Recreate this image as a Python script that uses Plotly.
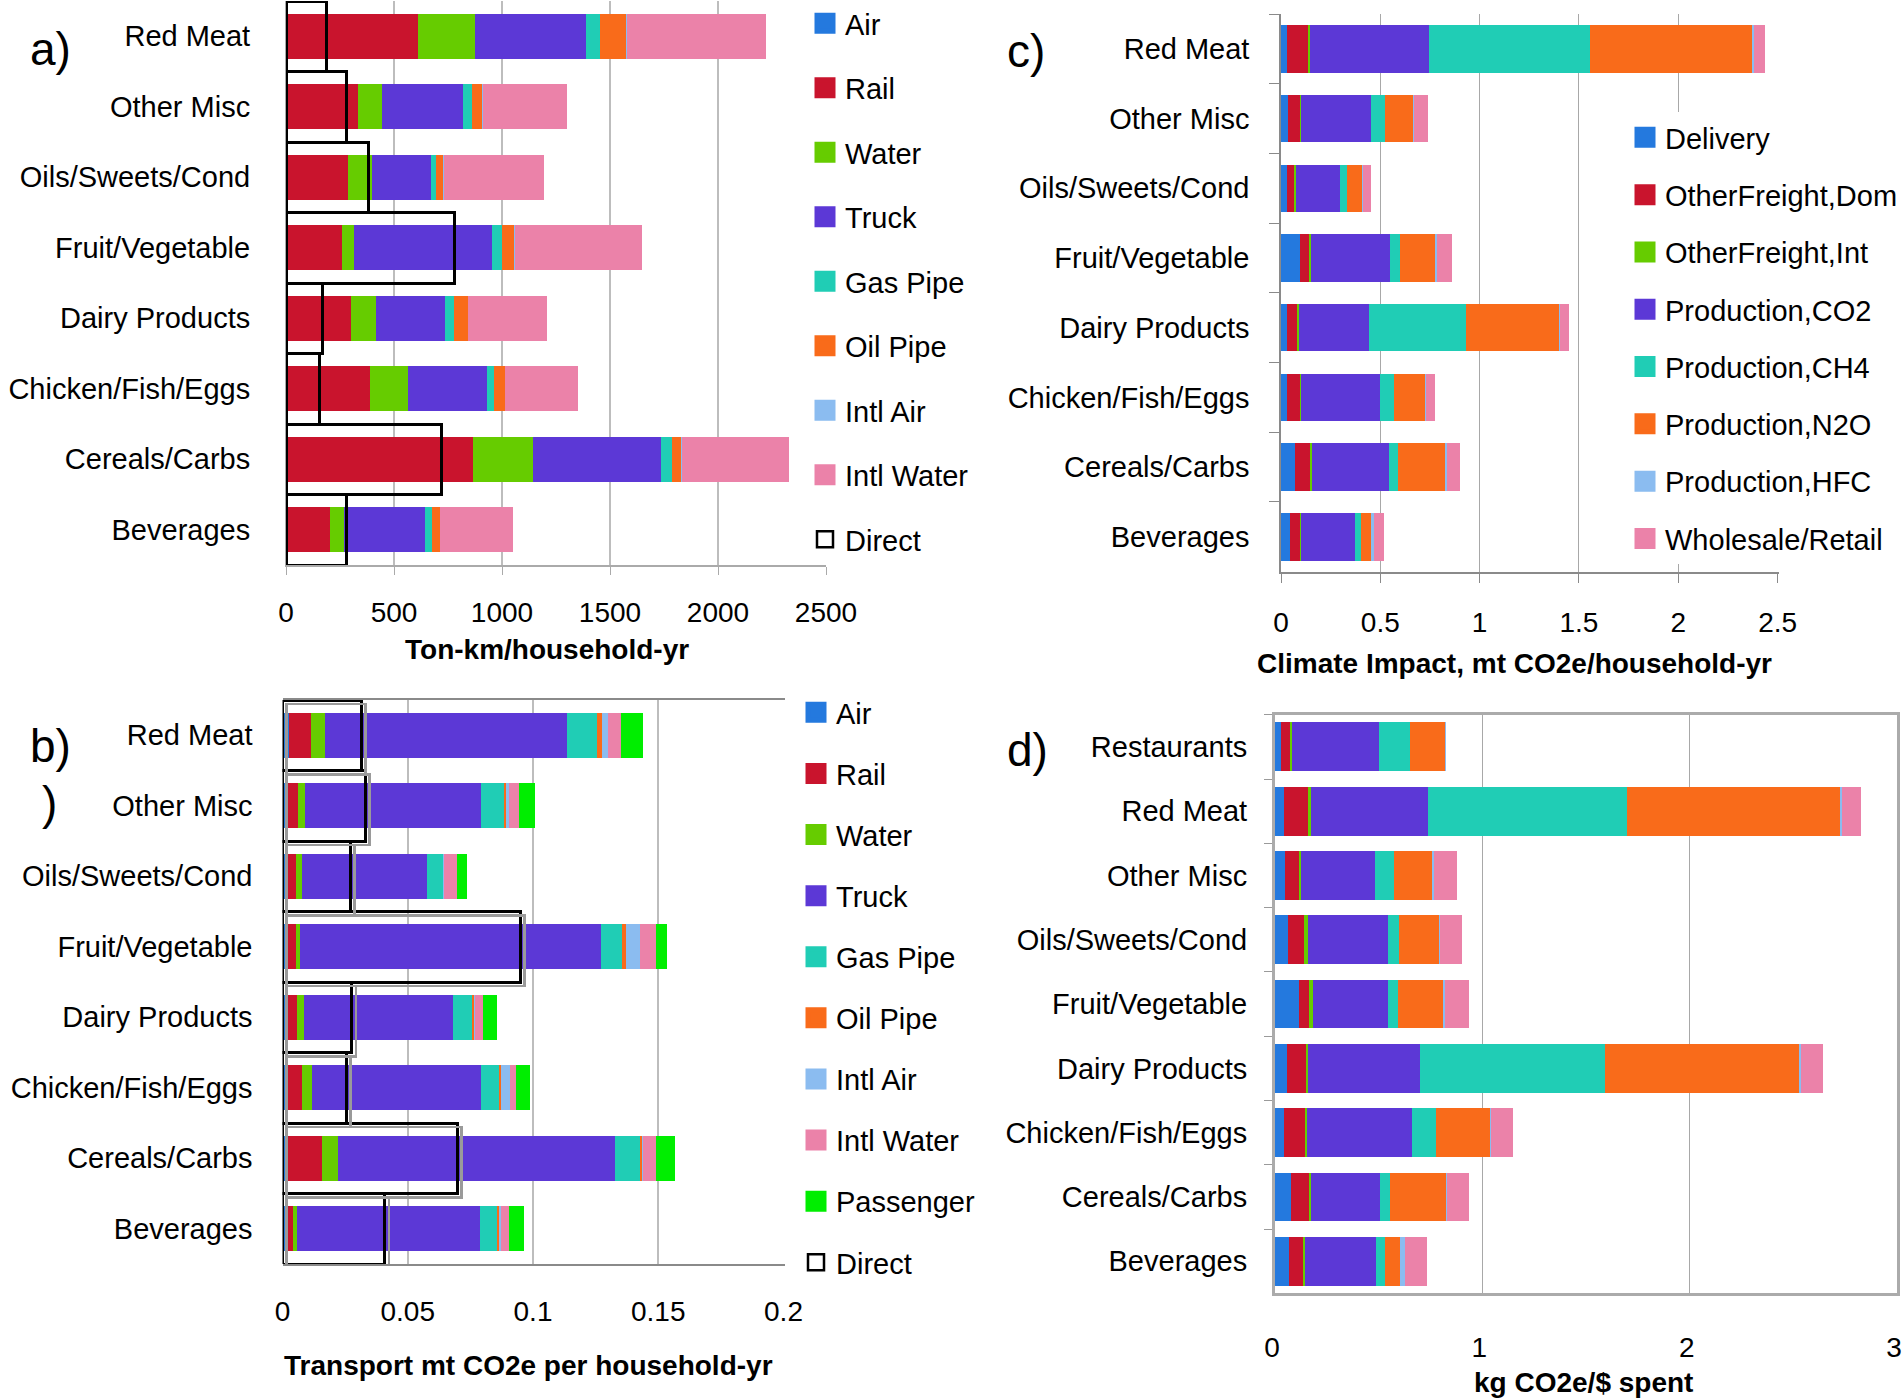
import plotly.graph_objects as go

W, H = 1903, 1399
FONT = "Liberation Sans, Arial, sans-serif"

# ---------------- data ----------------
cats = ["Red Meat", "Other Misc", "Oils/Sweets/Cond", "Fruit/Vegetable",
        "Dairy Products", "Chicken/Fish/Eggs", "Cereals/Carbs", "Beverages"]
cats_d = ["Restaurants"] + cats

# panel a: Ton-km/household-yr
air_a = [4, 3, 3, 3, 3, 3, 4, 2]
rail_a = [608, 332, 286, 256, 296, 384, 860, 202]
water_a = [263, 111, 111, 56, 118, 178, 278, 64]
truck_a = [514, 375, 270, 640, 318, 364, 593, 377]
gaspipe_a = [65, 40, 26, 45, 43, 32, 51, 32]
oilpipe_a = [123, 49, 34, 60, 65, 54, 47, 37]
intlair_a = [2, 1, 1, 2, 1, 1, 1, 1]
intlwater_a = [645, 389, 464, 588, 362, 338, 493, 338]
direct_a = [188, 281, 384, 779, 168, 154, 722, 279]

# panel b: Transport mt CO2e per household-yr
air_b = [0.0026, 0.0015, 0.0012, 0.0012, 0.0012, 0.0015, 0.0015, 0.0015]
rail_b = [0.0088, 0.0048, 0.0042, 0.0042, 0.0044, 0.0064, 0.0144, 0.0028]
water_b = [0.0056, 0.0027, 0.0025, 0.0016, 0.0030, 0.0040, 0.0061, 0.0016]
truck_b = [0.0964, 0.0702, 0.0496, 0.1201, 0.0593, 0.0674, 0.1107, 0.0729]
gaspipe_b = [0.0122, 0.0093, 0.0064, 0.0085, 0.0077, 0.0070, 0.0100, 0.0067]
oilpipe_b = [0.0020, 0.0007, 0.0003, 0.0017, 0.0009, 0.0011, 0.0008, 0.0008]
intlair_b = [0.0022, 0.0013, 0.0003, 0.0054, 0.0004, 0.0034, 0.0004, 0.0010]
intlwater_b = [0.0053, 0.0040, 0.0050, 0.0063, 0.0032, 0.0024, 0.0051, 0.0032]
passenger_b = [0.0089, 0.0063, 0.0043, 0.0046, 0.0056, 0.0056, 0.0076, 0.0059]
direct_b = [0.0316, 0.0332, 0.0272, 0.0950, 0.0277, 0.0256, 0.0699, 0.0409]

# panel c: Climate Impact, mt CO2e/household-yr
delivery_c = [0.032, 0.035, 0.028, 0.097, 0.028, 0.028, 0.071, 0.044]
ofdom_c = [0.104, 0.062, 0.042, 0.044, 0.056, 0.068, 0.078, 0.054]
ofint_c = [0.010, 0.006, 0.003, 0.012, 0.005, 0.007, 0.007, 0.004]
co2_c = [0.600, 0.350, 0.226, 0.394, 0.355, 0.393, 0.387, 0.272]
ch4_c = [0.812, 0.073, 0.031, 0.052, 0.486, 0.073, 0.047, 0.031]
n2o_c = [0.818, 0.142, 0.080, 0.178, 0.472, 0.156, 0.236, 0.049]
hfc_c = [0.005, 0.004, 0.003, 0.009, 0.005, 0.004, 0.012, 0.016]
wr_c = [0.058, 0.067, 0.038, 0.073, 0.043, 0.045, 0.064, 0.048]

# panel d: kg CO2e/$ spent
delivery_d = [0.028, 0.043, 0.047, 0.063, 0.116, 0.059, 0.043, 0.079, 0.069]
ofdom_d = [0.049, 0.118, 0.071, 0.079, 0.049, 0.092, 0.104, 0.083, 0.069]
ofint_d = [0.004, 0.012, 0.008, 0.016, 0.016, 0.010, 0.008, 0.012, 0.008]
co2_d = [0.421, 0.565, 0.354, 0.386, 0.362, 0.537, 0.506, 0.331, 0.339]
ch4_d = [0.151, 0.962, 0.095, 0.055, 0.051, 0.895, 0.114, 0.051, 0.045]
n2o_d = [0.168, 1.028, 0.187, 0.195, 0.217, 0.939, 0.264, 0.270, 0.073]
hfc_d = [0.002, 0.005, 0.004, 0.004, 0.010, 0.004, 0.004, 0.004, 0.024]
wr_d = [0.000, 0.095, 0.110, 0.102, 0.114, 0.108, 0.104, 0.106, 0.104]

tick_a = [0, 500, 1000, 1500, 2000, 2500]
tick_b = [0, 0.05, 0.1, 0.15, 0.2]
tick_b_text = ["0", "0.05", "0.1", "0.15", "0.2"]
tick_c = [0, 0.5, 1, 1.5, 2, 2.5]
tick_c_text = ["0", "0.5", "1", "1.5", "2", "2.5"]
tick_d = [0, 1, 2, 3]

# ---------------- style ----------------
BLUE = "#2479DE"
RED = "#C9142D"
GREEN = "#66CC00"
PURPLE = "#5C38D6"
TEAL = "#20CDB5"
ORANGE = "#F96B1A"
LBLUE = "#8BBCF0"
PINK = "#EB82A9"
LIME = "#00EE00"

def px_x(p):
    return p / W

def px_y(p):
    return 1 - p / H

fig = go.Figure()

def legend_marker(name, col, xa, ya, legend, direct=False):
    if direct:
        mk = dict(symbol="square", size=16, color="white",
                  line=dict(color="black", width=2.5))
    else:
        mk = dict(symbol="square", size=16, color=col, line=dict(color=col, width=5))
    fig.add_trace(go.Scatter(x=[None], y=[None], mode="markers", name=name,
                             marker=mk, xaxis=xa, yaxis=ya, legend=legend,
                             legendgroup=legend + name, showlegend=True,
                             hoverinfo="skip"))

def add_stack(names, colors, series, ycats, xa, ya, legend, showlegend, width):
    for name, col, vals in zip(names, colors, series):
        fig.add_trace(go.Bar(
            x=vals, y=ycats, orientation="h", name=name,
            marker=dict(color=col, line=dict(width=0)),
            xaxis=xa, yaxis=ya, showlegend=False, width=width))
        if showlegend:
            legend_marker(name, col, xa, ya, legend)

# panel a
add_stack(["Air", "Rail", "Water", "Truck", "Gas Pipe", "Oil Pipe", "Intl Air", "Intl Water"],
          [BLUE, RED, GREEN, PURPLE, TEAL, ORANGE, LBLUE, PINK],
          [air_a, rail_a, water_a, truck_a, gaspipe_a, oilpipe_a, intlair_a, intlwater_a],
          cats, "x", "y", "legend", True, 0.64)
fig.add_trace(go.Bar(x=direct_a, y=cats, orientation="h", name="Direct",
                     marker=dict(color="rgba(0,0,0,0)", line=dict(color="black", width=3)),
                     xaxis="x", yaxis="y5", showlegend=False, width=1.0))
legend_marker("Direct", "black", "x", "y", "legend", direct=True)

# panel b
add_stack(["Air", "Rail", "Water", "Truck", "Gas Pipe", "Oil Pipe", "Intl Air", "Intl Water", "Passenger"],
          [BLUE, RED, GREEN, PURPLE, TEAL, ORANGE, LBLUE, PINK, LIME],
          [air_b, rail_b, water_b, truck_b, gaspipe_b, oilpipe_b, intlair_b, intlwater_b, passenger_b],
          cats, "x2", "y2", "legend2", True, 0.64)
fig.add_trace(go.Bar(x=direct_b, y=cats, orientation="h", name="Direct shadow",
                     marker=dict(color="rgba(0,0,0,0)", line=dict(color="#9A9A9A", width=2.5)),
                     xaxis="x7", yaxis="y7", showlegend=False, width=1.0))
fig.add_trace(go.Bar(x=direct_b, y=cats, orientation="h", name="Direct",
                     marker=dict(color="rgba(0,0,0,0)", line=dict(color="black", width=3)),
                     xaxis="x2", yaxis="y6", showlegend=False, width=1.0))
legend_marker("Direct", "black", "x2", "y2", "legend2", direct=True)

# panel c
names_c = ["Delivery", "OtherFreight,Dom", "OtherFreight,Int", "Production,CO2",
           "Production,CH4", "Production,N2O", "Production,HFC", "Wholesale/Retail"]
cols_c = [BLUE, RED, GREEN, PURPLE, TEAL, ORANGE, LBLUE, PINK]
add_stack(names_c, cols_c,
          [delivery_c, ofdom_c, ofint_c, co2_c, ch4_c, n2o_c, hfc_c, wr_c],
          cats, "x3", "y3", "legend3", True, 0.68)

# panel d
add_stack(names_c, cols_c,
          [delivery_d, ofdom_d, ofint_d, co2_d, ch4_d, n2o_d, hfc_d, wr_d],
          cats_d, "x4", "y4", "legend3", False, 0.76)

# ---------------- layout ----------------
tickfont = dict(family=FONT, size=28, color="black")
catfont = dict(family=FONT, size=29, color="black")
GRID = "#BDBDBD"

n = len(cats)
rng8 = [n - 0.5, -0.5]
rng9 = [len(cats_d) - 0.5, -0.5]

dom_ax = [px_x(286), px_x(826)]
dom_ay = [px_y(565), px_y(1)]
dom_bx = [px_x(282.5), px_x(784.5)]
dom_by = [px_y(1264), px_y(700)]
dom_cx = [px_x(1281), px_x(1778.6)]
dom_cy = [px_y(571.7), px_y(14)]
dom_dx = [px_x(1275), px_x(1897)]
dom_dy = [px_y(1293.4), px_y(714.7)]

# shadow offsets for panel b (in px)
shift_px_x = 4.0
shift_px_y = 4.0
bmax = 0.2004
bw = 784.5 - 282.5
bh = 1264 - 700
sx = shift_px_x * bmax / bw
sy = shift_px_y * n / bh

legfont = dict(family=FONT, size=29, color="black")

fig.update_layout(
    width=W, height=H, margin=dict(l=0, r=0, t=0, b=0, autoexpand=False),
    paper_bgcolor="white", plot_bgcolor="white",
    barmode="stack", font=dict(family=FONT, size=28, color="black"),
    xaxis=dict(domain=dom_ax, anchor="y", range=[0, 2500], tickvals=tick_a,
               showgrid=True, gridcolor=GRID, gridwidth=1.5, zeroline=False,
               showline=True, linecolor="#AAAAAA", linewidth=1.5,
               ticks="outside", ticklen=8, tickcolor="#AAAAAA",
               tickfont=tickfont, ticklabelstandoff=14, ticklabeloverflow="allow"),
    yaxis=dict(domain=dom_ay, anchor="x", type="category", categoryarray=cats,
               categoryorder="array", range=rng8, showgrid=False, zeroline=False,
               showline=True, linecolor="#AAAAAA", ticks="",
               tickfont=catfont, ticklabelstandoff=29),
    yaxis5=dict(overlaying="y", anchor="x", type="category", categoryarray=cats,
                categoryorder="array", range=rng8, visible=False),

    xaxis2=dict(domain=dom_bx, anchor="y2", range=[0, bmax], tickvals=tick_b,
                ticktext=tick_b_text,
                showgrid=True, gridcolor=GRID, gridwidth=1.5, zeroline=False,
                showline=True, mirror=True, linecolor="#8A8A8A", linewidth=1.5,
                ticks="", tickfont=tickfont, ticklabelstandoff=22,
                ticklabeloverflow="allow"),
    yaxis2=dict(domain=dom_by, anchor="x2", type="category", categoryarray=cats,
                categoryorder="array", range=rng8, showgrid=False, zeroline=False,
                showline=False, ticks="", tickfont=catfont, ticklabelstandoff=29),
    yaxis6=dict(overlaying="y2", anchor="x2", type="category", categoryarray=cats,
                categoryorder="array", range=rng8, visible=False),
    xaxis7=dict(overlaying="x2", anchor="y7", range=[-sx, bmax - sx], visible=False),
    yaxis7=dict(overlaying="y2", anchor="x7", type="category", categoryarray=cats,
                categoryorder="array", range=[n - 0.5 - sy, -0.5 - sy], visible=False),

    xaxis3=dict(domain=dom_cx, anchor="y3", range=[0, 2.505], tickvals=tick_c,
                ticktext=tick_c_text,
                showgrid=True, gridcolor="#A8A8A8", gridwidth=1.2, zeroline=False,
                showline=True, linecolor="#8A8A8A", linewidth=1.5,
                ticks="outside", ticklen=10, tickcolor="#8A8A8A",
                tickfont=tickfont, ticklabelstandoff=15, ticklabeloverflow="allow"),
    yaxis3=dict(domain=dom_cy, anchor="x3", type="category", categoryarray=cats,
                categoryorder="array", range=rng8, showgrid=False, zeroline=False,
                showline=True, linecolor="#8A8A8A", linewidth=1.5,
                ticks="outside", tickson="boundaries", ticklen=10, tickcolor="#8A8A8A",
                tickfont=catfont, ticklabelstandoff=24),

    xaxis4=dict(domain=dom_dx, anchor="y4", range=[0, 3], tickvals=tick_d,
                showgrid=True, gridcolor="#A8A8A8", gridwidth=1.2, zeroline=False,
                showline=True, mirror=True, linecolor="#ABABAB", linewidth=3,
                ticks="", tickfont=tickfont, ticklabelstandoff=27,
                ticklabelshift=-3, ticklabeloverflow="allow"),
    yaxis4=dict(domain=dom_dy, anchor="x4", type="category", categoryarray=cats_d,
                categoryorder="array", range=rng9, showgrid=False, zeroline=False,
                showline=True, mirror=True, linecolor="#ABABAB", linewidth=3,
                ticks="outside", tickson="boundaries", ticklen=8, tickcolor="#9A9A9A",
                tickfont=catfont, ticklabelstandoff=19),

    legend=dict(x=px_x(805), y=px_y(-2), xanchor="left", yanchor="top",
                font=legfont, traceorder="grouped",
                tracegroupgap=23.8, bgcolor="white", borderwidth=0),
    legend2=dict(x=px_x(796), y=px_y(687), xanchor="left", yanchor="top",
                 font=legfont, traceorder="grouped",
                 tracegroupgap=20.4, bgcolor="white", borderwidth=0),
    legend3=dict(x=px_x(1625), y=px_y(112), xanchor="left", yanchor="top",
                 font=legfont, traceorder="grouped",
                 tracegroupgap=16.6, bgcolor="white", borderwidth=0),
)

def ann(text, x, y, size, bold=False, xanchor="left"):
    fig.add_annotation(text=("<b>%s</b>" % text) if bold else text,
                       x=px_x(x), y=px_y(y), xref="paper", yref="paper",
                       xanchor=xanchor, yanchor="middle", showarrow=False,
                       font=dict(family=FONT, size=size, color="black"))

ann("a)", 28, 49, 46)
ann("b)", 28, 746, 46)
ann(")", 40, 803, 46)
ann("c)", 1005, 51, 46)
ann("d)", 1005, 750, 46)

ann("Ton-km/household-yr", 547, 649, 28, bold=True, xanchor="center")
ann("Transport mt CO2e per household-yr", 528, 1365, 28, bold=True, xanchor="center")
ann("Climate Impact, mt CO2e/household-yr", 1514, 663, 28, bold=True, xanchor="center")
ann("kg CO2e/$ spent", 1583, 1382, 28, bold=True, xanchor="center")

fig.write_html("out.html")
